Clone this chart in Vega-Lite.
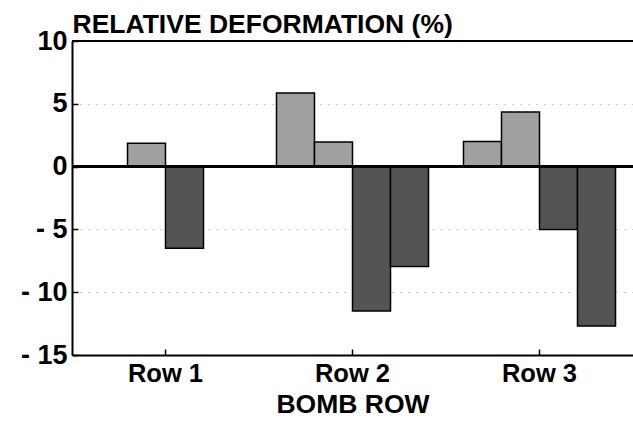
{
  "$schema": "https://vega.github.io/schema/vega-lite/v6.json",
  "autosize": "none",
  "width": 561,
  "height": 314,
  "padding": {"left": 72, "top": 41, "right": 0, "bottom": 74},
  "background": "white",
  "config": {
    "view": {"stroke": null},
    "font": "Liberation Sans"
  },
  "data": {
    "values": [
      {"row": "Row 1", "series": "B", "value": 1.85},
      {"row": "Row 1", "series": "C", "value": -6.5},
      {"row": "Row 2", "series": "A", "value": 5.85},
      {"row": "Row 2", "series": "B", "value": 1.95},
      {"row": "Row 2", "series": "C", "value": -11.5},
      {"row": "Row 2", "series": "D", "value": -7.95},
      {"row": "Row 3", "series": "A", "value": 2.0},
      {"row": "Row 3", "series": "B", "value": 4.35},
      {"row": "Row 3", "series": "C", "value": -5.0},
      {"row": "Row 3", "series": "D", "value": -12.7}
    ]
  },
  "layer": [
    {
      "mark": {"type": "bar", "stroke": "black", "strokeWidth": 1.5},
      "encoding": {
        "x": {
          "field": "row",
          "type": "nominal",
          "scale": {"domain": ["Row 1", "Row 2", "Row 3"], "paddingInner": 0.187, "paddingOuter": 0.0935},
          "axis": {
            "title": "BOMB ROW",
            "titleFontSize": 26.5,
            "titleFontWeight": "bold",
            "titlePadding": 5,
            "labelAngle": 0,
            "labelFontSize": 25.5,
            "labelFontWeight": "bold",
            "labelColor": "black",
            "labelPadding": 12,
            "tickSize": -6,
            "tickWidth": 1.5,
            "tickColor": "black",
            "domainColor": "black",
            "domainWidth": 2,
            "titleColor": "black"
          }
        },
        "xOffset": {"field": "series", "type": "nominal", "scale": {"domain": ["A", "B", "C", "D"], "paddingInner": 0, "paddingOuter": 0}},
        "y": {
          "field": "value",
          "type": "quantitative",
          "scale": {"domain": [-15, 10], "nice": false},
          "axis": {
            "values": [-15, -10, -5, 0, 5, 10],
            "labelExpr": "datum.value < 0 ? '- ' + abs(datum.value) : datum.label",
            "labelFontSize": 27,
            "labelFontWeight": "bold",
            "labelColor": "black",
            "labelPadding": 11,
            "tickSize": -6,
            "tickWidth": 1.5,
            "tickColor": "black",
            "domainColor": "black",
            "domainWidth": 2,
            "grid": true,
            "gridDash": [1, 7],
            "gridColor": "#999999",
            "gridWidth": 1,
            "title": "RELATIVE DEFORMATION (%)",
            "titleAngle": 0,
            "titleAlign": "left",
            "titleBaseline": "alphabetic",
            "titleX": 0,
            "titleY": -9,
            "titleFontSize": 26.5,
            "titleFontWeight": "bold",
            "titleColor": "black"
          }
        },
        "color": {
          "field": "series",
          "type": "nominal",
          "scale": {"domain": ["A", "B", "C", "D"], "range": ["#a0a0a0", "#a0a0a0", "#545454", "#545454"]},
          "legend": null
        }
      }
    },
    {
      "mark": {"type": "rule", "color": "black", "strokeWidth": 2},
      "encoding": {"y": {"datum": 0}}
    },
    {
      "mark": {"type": "rule", "color": "black", "strokeWidth": 2},
      "encoding": {"y": {"datum": 10}}
    }
  ]
}
